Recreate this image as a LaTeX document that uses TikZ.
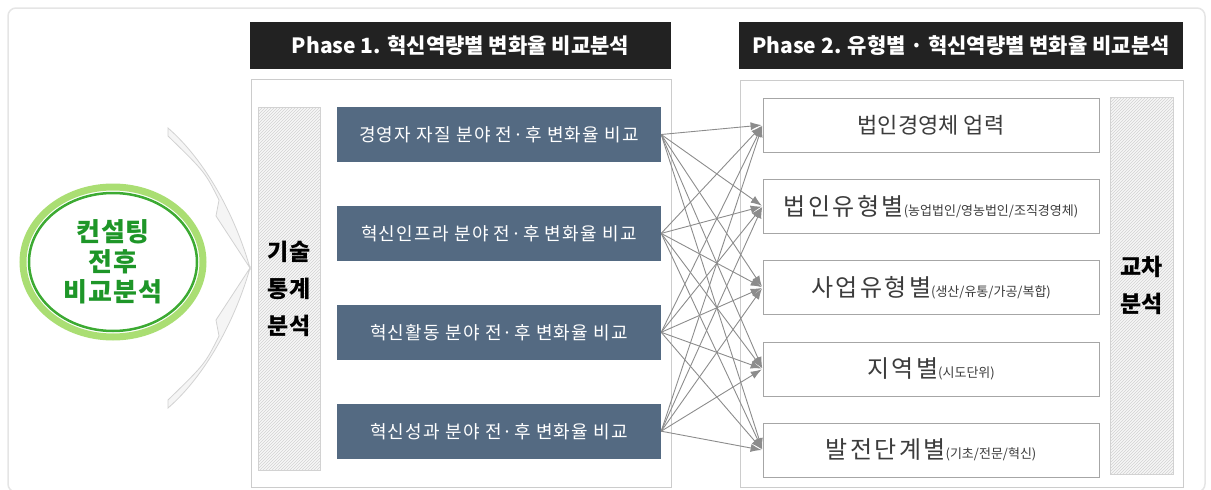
\documentclass[tikz,border=0pt]{standalone}
\usepackage{fontspec}
\setmainfont{Noto Sans CJK KR}
\usetikzlibrary{positioning, shapes.geometric, patterns, arrows.meta}

\definecolor{PhaseBlack}{RGB}{34,34,34}
\definecolor{SteelBlue}{RGB}{84,106,130}
\definecolor{RingGreen}{RGB}{60,170,50}
\definecolor{RingLight}{RGB}{170,222,115}
\definecolor{TextGreen}{RGB}{30,150,40}
\definecolor{BoxText}{RGB}{60,60,60}

\tikzset{
  phasetitle/.style={fill=PhaseBlack, text=white, minimum height=47pt, inner sep=0pt,
    font=\bfseries\fontsize{21}{25}\selectfont},
  phasebox/.style={draw=gray!40, fill=white, line width=0.8pt},
  hatchbox/.style={draw=gray!35, pattern=north east lines, pattern color=gray!35,
    preaction={fill=gray!6}, minimum width=62pt, align=center, inner sep=0pt,
    font=\bfseries\fontsize{23}{37}\selectfont},
  compbox/.style={fill=SteelBlue, text=white, minimum width=324pt, minimum height=55pt,
    inner sep=0pt, font=\fontsize{18}{21}\selectfont\addfontfeature{LetterSpace=7}},
  groupbox/.style={draw=gray!70, fill=white, minimum width=336pt, minimum height=54pt,
    inner sep=0pt, text=BoxText, line width=0.8pt},
  wing/.style={fill=gray!8, draw=gray!35, line width=0.8pt},
  arrowline/.style={->, draw=gray!90, line width=0.9pt, shorten >=1pt}
}
\newcommand{\mainlbl}[1]{{\fontsize{24}{28}\selectfont\addfontfeature{LetterSpace=10}#1}}
\newcommand{\sublbl}[1]{{\fontsize{13}{16}\selectfont #1}}

\begin{document}
\begin{tikzpicture}[x=1pt, y=-1pt, >={Latex[length=11pt,width=8pt]}]
    \useasboundingbox (0,0) rectangle (1211,490);
    \draw[gray!20, line width=1.5pt, rounded corners=8pt] (8,8) rectangle (1205,492);

    % left: circle and wings
    \draw[wing] (168,128) .. controls (205,160) and (235,215) .. (250,268)
        -- (216,216) -- (219,200) .. controls (205,172) .. (168,136) -- cycle;
    \draw[wing] (168,408) .. controls (205,376) and (235,321) .. (250,268)
        -- (216,320) -- (219,336) .. controls (205,364) .. (168,400) -- cycle;
    \node (ConsultingCircle) [ellipse, draw=RingLight, line width=7pt, minimum width=180pt, minimum height=150pt,
        align=center, text=TextGreen, font=\bfseries\fontsize{26}{30}\selectfont\addfontfeature{LetterSpace=4}] at (113,262) {컨설팅\\전후\\비교분석};
    \draw[RingGreen, line width=2.5pt] (ConsultingCircle.center) ellipse [x radius=84pt, y radius=69pt];

    % phase 1
    \node (PhaseOneTitle) [phasetitle, minimum width=421pt] at (460.5,45.5) {Phase 1. 혁신역량별 변화율 비교분석};
    \node (PhaseOneBox) [phasebox, minimum width=420pt, minimum height=408pt] at (461,283) {};
    \node (DescStats) [hatchbox, minimum height=363pt] at (289,288.5) {기술\\통계\\분석};
    \node (MgrQuality) [compbox] at (499,134.5) {경영자 자질 분야 전·후 변화율 비교};
    \node (InnoInfra) [compbox, below=43.5pt of MgrQuality] {혁신인프라 분야 전·후 변화율 비교};
    \node (InnoActivity) [compbox, below=43.5pt of InnoInfra] {혁신활동 분야 전·후 변화율 비교};
    \node (InnoOutcome) [compbox, below=43.5pt of InnoActivity] {혁신성과 분야 전·후 변화율 비교};

    % phase 2
    \node (PhaseTwoTitle) [phasetitle, minimum width=444pt] at (961,45.5) {Phase 2. 유형별 · 혁신역량별 변화율 비교분석};
    \node (PhaseTwoBox) [phasebox, minimum width=443pt, minimum height=407pt] at (961.5,283.5) {};
    \node (BizAge) [groupbox, font=\fontsize{22}{26}\selectfont] at (931,125) {법인경영체 업력};
    \node (CorpType) [groupbox, below=26.5pt of BizAge] {\mainlbl{법인유형별}\sublbl{(농업법인/영농법인/조직경영체)}};
    \node (BizType) [groupbox, below=26.5pt of CorpType] {\mainlbl{사업유형별}\sublbl{(생산/유통/가공/복합)}};
    \node (Region) [groupbox, below=26.5pt of BizType] {\mainlbl{지역별}\sublbl{(시도단위)}};
    \node (DevStage) [groupbox, below=26.5pt of Region] {\mainlbl{발전단계별}\sublbl{(기초/전문/혁신)}};
    \node (CrossAnalysis) [hatchbox, minimum width=63pt, minimum height=377pt] at (1141.5,285.5) {교차\\분석};

    \foreach \src in {MgrQuality, InnoInfra, InnoActivity, InnoOutcome}
        \foreach \dst in {BizAge, CorpType, BizType, Region, DevStage}
            \draw[arrowline] (\src.east) -- (\dst.west);
\end{tikzpicture}
\end{document}
